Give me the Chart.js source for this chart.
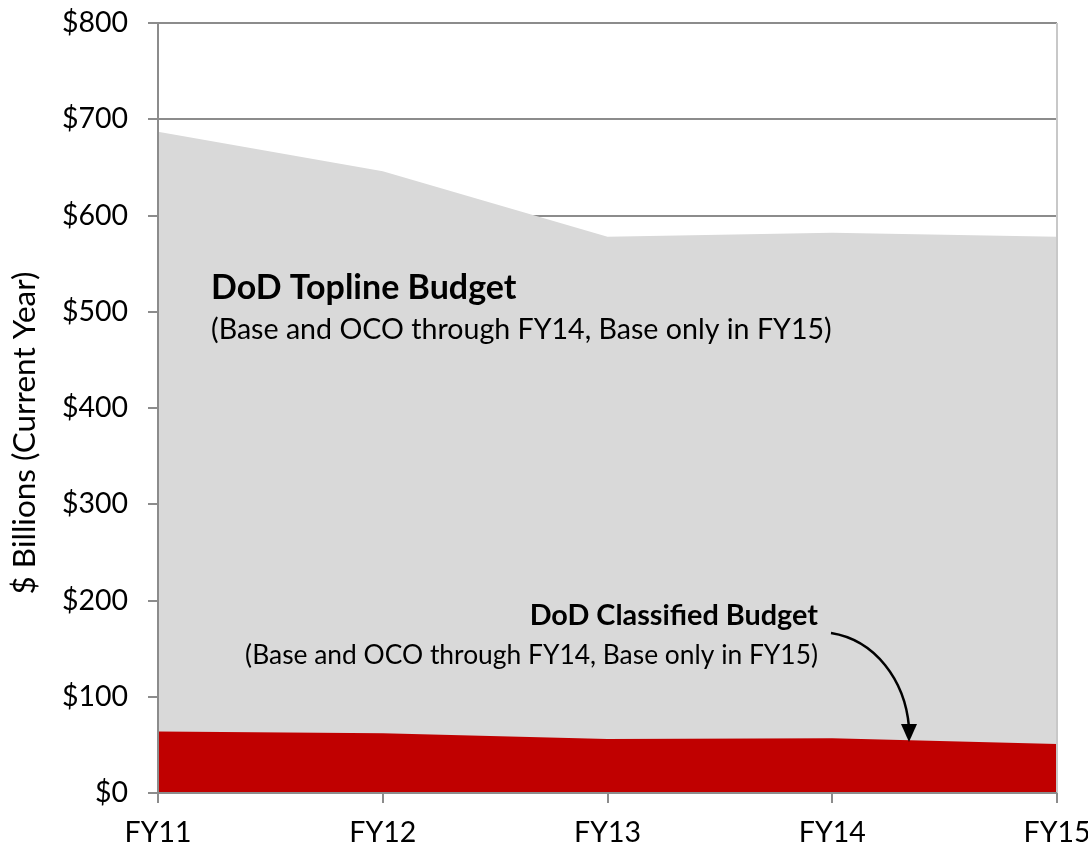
<!DOCTYPE html>
<html>
<head>
<meta charset="utf-8">
<script src="https://cdn.jsdelivr.net/npm/chart.js@4.4.0/dist/chart.umd.min.js"></script>
<style>
html,body{margin:0;padding:0;background:#fff;}
#wrap{width:1088px;height:848px;position:relative;}
</style>
</head>
<body>
<div id="wrap"><canvas id="c" width="1088" height="848"></canvas></div>
<script>
const categories = ["FY11", "FY12", "FY13", "FY14", "FY15"];
const toplineBudget = [687, 646, 578, 582, 578];
const classifiedBudget = [64, 62, 56, 57, 51];
const yTicks = [0, 100, 200, 300, 400, 500, 600, 700, 800];
const yAxisTitle = "$ Billions (Current Year)";
const toplineTitle = "DoD Topline Budget";
const toplineSub = "(Base and OCO through FY14, Base only in FY15)";
const classifiedTitle = "DoD Classified Budget";
const classifiedSub = "(Base and OCO through FY14, Base only in FY15)";

const FONT = "Lato, 'Open Sans', sans-serif";

const annotations = {
  id: 'annotations',
  afterDatasetsDraw(chart) {
    const ctx = chart.ctx;
    const a = chart.chartArea;
    ctx.save();
    // right border and left axis line
    ctx.strokeStyle = '#c8c8c8';
    ctx.lineWidth = 2;
    ctx.beginPath(); ctx.moveTo(a.right, a.top); ctx.lineTo(a.right, a.bottom); ctx.stroke();
    ctx.strokeStyle = '#8c8c8c';
    ctx.beginPath(); ctx.moveTo(a.left, a.top); ctx.lineTo(a.left, a.bottom + 10); ctx.stroke();
    ctx.beginPath(); ctx.moveTo(a.left - 10, a.bottom); ctx.lineTo(a.right, a.bottom); ctx.stroke();

    ctx.fillStyle = '#000';
    ctx.textBaseline = 'middle';
    ctx.textAlign = 'left';
    ctx.font = "bold 34px " + FONT;
    ctx.fillText(toplineTitle, 211, 288);
    ctx.font = "28.6px " + FONT;
    ctx.fillText(toplineSub, 211, 330);

    ctx.textAlign = 'right';
    ctx.font = "bold 28.8px " + FONT;
    ctx.fillText(classifiedTitle, 818, 616);
    ctx.font = "26.4px " + FONT;
    ctx.fillText(classifiedSub, 818, 655);

    // arrow
    ctx.strokeStyle = '#000';
    ctx.lineWidth = 2.5;
    ctx.beginPath();
    ctx.moveTo(831, 633);
    ctx.bezierCurveTo(875, 640, 905, 680, 909, 727);
    ctx.stroke();
    ctx.fillStyle = '#000';
    ctx.beginPath();
    ctx.moveTo(901, 724);
    ctx.lineTo(917, 724);
    ctx.lineTo(909, 742);
    ctx.closePath();
    ctx.fill();

    // y-axis title
    ctx.save();
    ctx.translate(25, 433);
    ctx.rotate(-Math.PI / 2);
    ctx.textAlign = 'center';
    ctx.textBaseline = 'middle';
    ctx.font = "31.5px " + FONT;
    ctx.fillText(yAxisTitle, 0, 0);
    ctx.restore();
    ctx.restore();
  }
};

new Chart(document.getElementById('c'), {
  type: 'line',
  data: {
    labels: categories,
    datasets: [
      {
        label: 'DoD Classified Budget',
        data: classifiedBudget,
        backgroundColor: '#C00000',
        borderColor: '#C00000',
        borderWidth: 0,
        pointRadius: 0,
        tension: 0,
        fill: 'origin'
      },
      {
        label: 'DoD Topline Budget',
        data: toplineBudget,
        backgroundColor: '#D9D9D9',
        borderColor: '#D9D9D9',
        borderWidth: 0,
        pointRadius: 0,
        tension: 0,
        fill: 'origin'
      }
    ]
  },
  options: {
    responsive: false,
    animation: false,
    devicePixelRatio: 1,
    layout: { padding: { top: 23, right: 31, left: 0, bottom: 0 } },
    plugins: { legend: { display: false }, tooltip: { enabled: false } },
    scales: {
      x: {
        type: 'category',
        offset: false,
        grid: { drawOnChartArea: false, drawTicks: true, tickLength: 10, color: '#8c8c8c', lineWidth: 2 },
        border: { display: false },
        ticks: { color: '#000', font: { family: FONT, size: 28.5 }, padding: 13, maxRotation: 0, autoSkip: false },
        afterFit(s) { s.height = 55; s.paddingLeft = 0; s.paddingRight = 0; }
      },
      y: {
        min: 0, max: 800,
        afterBuildTicks(s) { s.ticks = yTicks.map(v => ({ value: v })); },
        grid: { color: '#8c8c8c', lineWidth: 2, tickLength: 10, drawTicks: true },
        border: { display: false },
        ticks: {
          color: '#000', font: { family: FONT, size: 28.5 }, padding: 20,
          callback: v => '$' + v
        },
        afterFit(s) { s.width = 158; s.paddingTop = 0; s.paddingBottom = 0; }
      }
    }
  },
  plugins: [annotations]
});
</script>
</body>
</html>
